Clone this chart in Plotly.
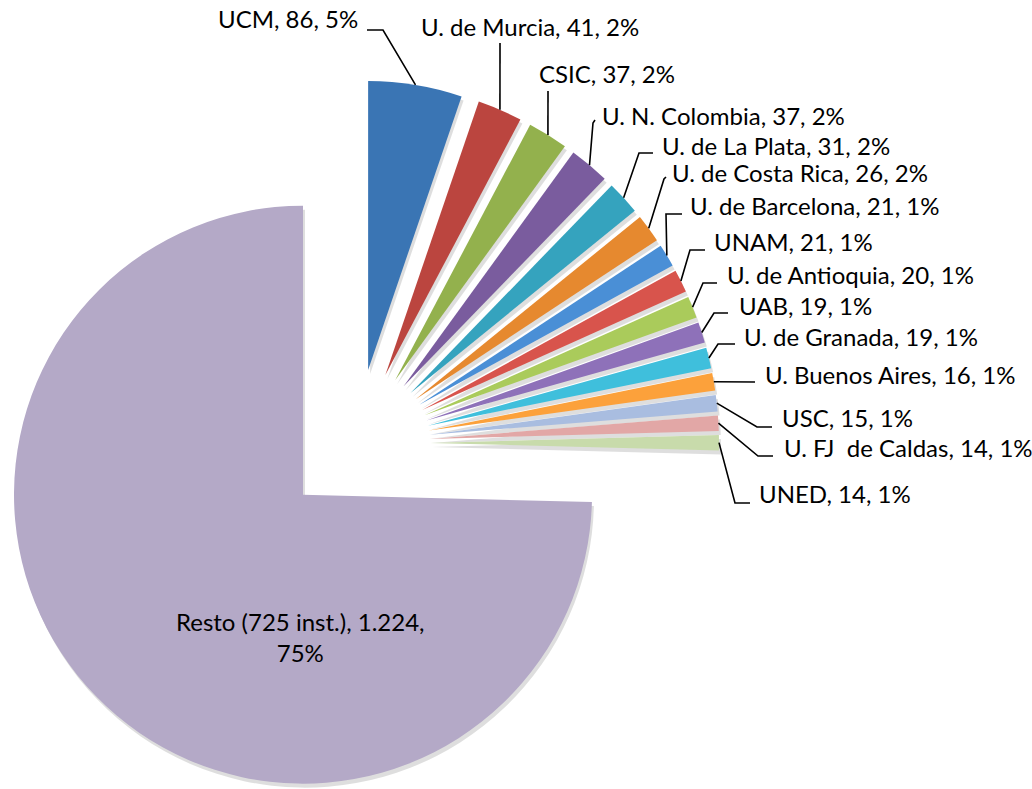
import math
import plotly.graph_objects as go

# ---------------- data ----------------
labels = ["UCM", "U. de Murcia", "CSIC", "U. N. Colombia", "U. de La Plata",
          "U. de Costa Rica", "U. de Barcelona", "UNAM", "U. de Antioquia", "UAB",
          "U. de Granada", "U. Buenos Aires", "USC", "U. FJ  de Caldas", "UNED",
          "Resto (725 inst.)"]
values = [86, 41, 37, 37, 31, 26, 21, 21, 20, 19, 19, 16, 15, 14, 14, 1224]

# ---------------- styles ----------------
colors = ["#3a75b4", "#bb453f", "#93b14d", "#7a5c9e", "#35a3be", "#e6892f",
          "#4a8fd6", "#d8544c", "#aacb5b", "#8e71b9", "#3fbfdc", "#fca13b",
          "#a9bde0", "#e2a7a6", "#c8dbab", "#b4a9c7"]
SHADOW = "rgba(0,0,0,0.13)"

W, H = 1032, 789
CX, CY = 356, 443      # pie centre (px)
R = 289                # radius (px)
PULL = 74              # explosion distance (px)
SHADOW_DX, SHADOW_DY = 2, 4
FONT = "Lato"
FS = 24
BASE_OFF = 9.3         # baseline -> box middle offset for FS

# label layout: text anchor x, text baseline y, anchor side, leader bend points (px)
lab_x = [360, 419, 537, 600, 660, 670, 688, 712, 725, 737, 742, 763, 780, 782, 757]
lab_base = [28, 36, 83, 125, 155, 182, 215, 251, 284, 315, 346, 384, 427, 457, 503]
lab_side = ["right"] + ["left"] * 14
lab_bends = [[(383, 30), (367, 30)], [(500, 43)], [(548, 91)], [(593, 123), (595, 120)],
             [(639, 153), (653, 153)], [(664, 179), (666, 177)], [(666, 214), (682, 214)],
             [(690, 250), (705, 250)], [(703, 283), (717, 283)], [(714, 313), (728, 313)],
             [(718, 344), (735, 344)], [(755, 382)], [(757, 427), (772, 427)],
             [(758, 456), (773, 456)], [(735, 503), (750, 503)]]
resto_label_pos = (300, 637)


def px(x):
    return x / W


def py(y):
    return 1 - y / H


total = sum(values)
n = len(values)
cum = 0
mids = []
for v in values:
    mids.append((cum + v / 2) / total * 2 * math.pi)
    cum += v


def slice_trace(i, fill, dx=0, dy=0):
    tx = CX + PULL * math.sin(mids[i]) + dx
    ty = CY - PULL * math.cos(mids[i]) + dy
    return go.Pie(
        values=values, labels=labels, sort=False, direction="clockwise", rotation=0,
        marker=dict(colors=[fill if j == i else "rgba(0,0,0,0)" for j in range(n)],
                    line=dict(width=0)),
        textinfo="none", showlegend=False,
        hoverinfo="skip" if dx or dy else "label+value+percent",
        domain=dict(x=[px(tx - R), px(tx + R)], y=[py(ty + R), py(ty - R)]),
    )


fig = go.Figure()
for i in range(n):
    fig.add_trace(slice_trace(i, SHADOW, SHADOW_DX, SHADOW_DY))
for i in range(n):
    fig.add_trace(slice_trace(i, colors[i]))


def fmt_num(v):
    return f"{v:,}".replace(",", ".")


annotations = []
shapes = []
for i in range(n - 1):
    text = f"{labels[i]}, {fmt_num(values[i])}, {round(100 * values[i] / total)}%"
    annotations.append(dict(
        text=text, x=px(lab_x[i]), y=py(lab_base[i] - BASE_OFF), xref="paper", yref="paper",
        xanchor=lab_side[i], yanchor="middle", showarrow=False,
        font=dict(family=FONT, size=FS, color="#000000")))
    sx = CX + (PULL + R) * math.sin(mids[i])
    sy = CY - (PULL + R) * math.cos(mids[i])
    pts = [(sx, sy)] + lab_bends[i]
    path = "M " + " L ".join(f"{px(x):.5f},{py(y):.5f}" for x, y in pts)
    shapes.append(dict(type="path", path=path, xref="paper", yref="paper",
                       line=dict(color="#000000", width=1.6)))

ri = n - 1
annotations.append(dict(
    text=f"{labels[ri]}, {fmt_num(values[ri])},<br>{round(100 * values[ri] / total)}%",
    x=px(resto_label_pos[0]), y=py(resto_label_pos[1]), xref="paper", yref="paper",
    xanchor="center", yanchor="middle", showarrow=False, align="center",
    font=dict(family=FONT, size=FS, color="#000000")))

fig.update_layout(
    width=W, height=H, margin=dict(l=0, r=0, t=0, b=0),
    paper_bgcolor="white", plot_bgcolor="white",
    annotations=annotations, shapes=shapes, showlegend=False,
)

fig.write_html("out.html", config={"displayModeBar": False},
               post_script="document.body.style.margin='0';")
